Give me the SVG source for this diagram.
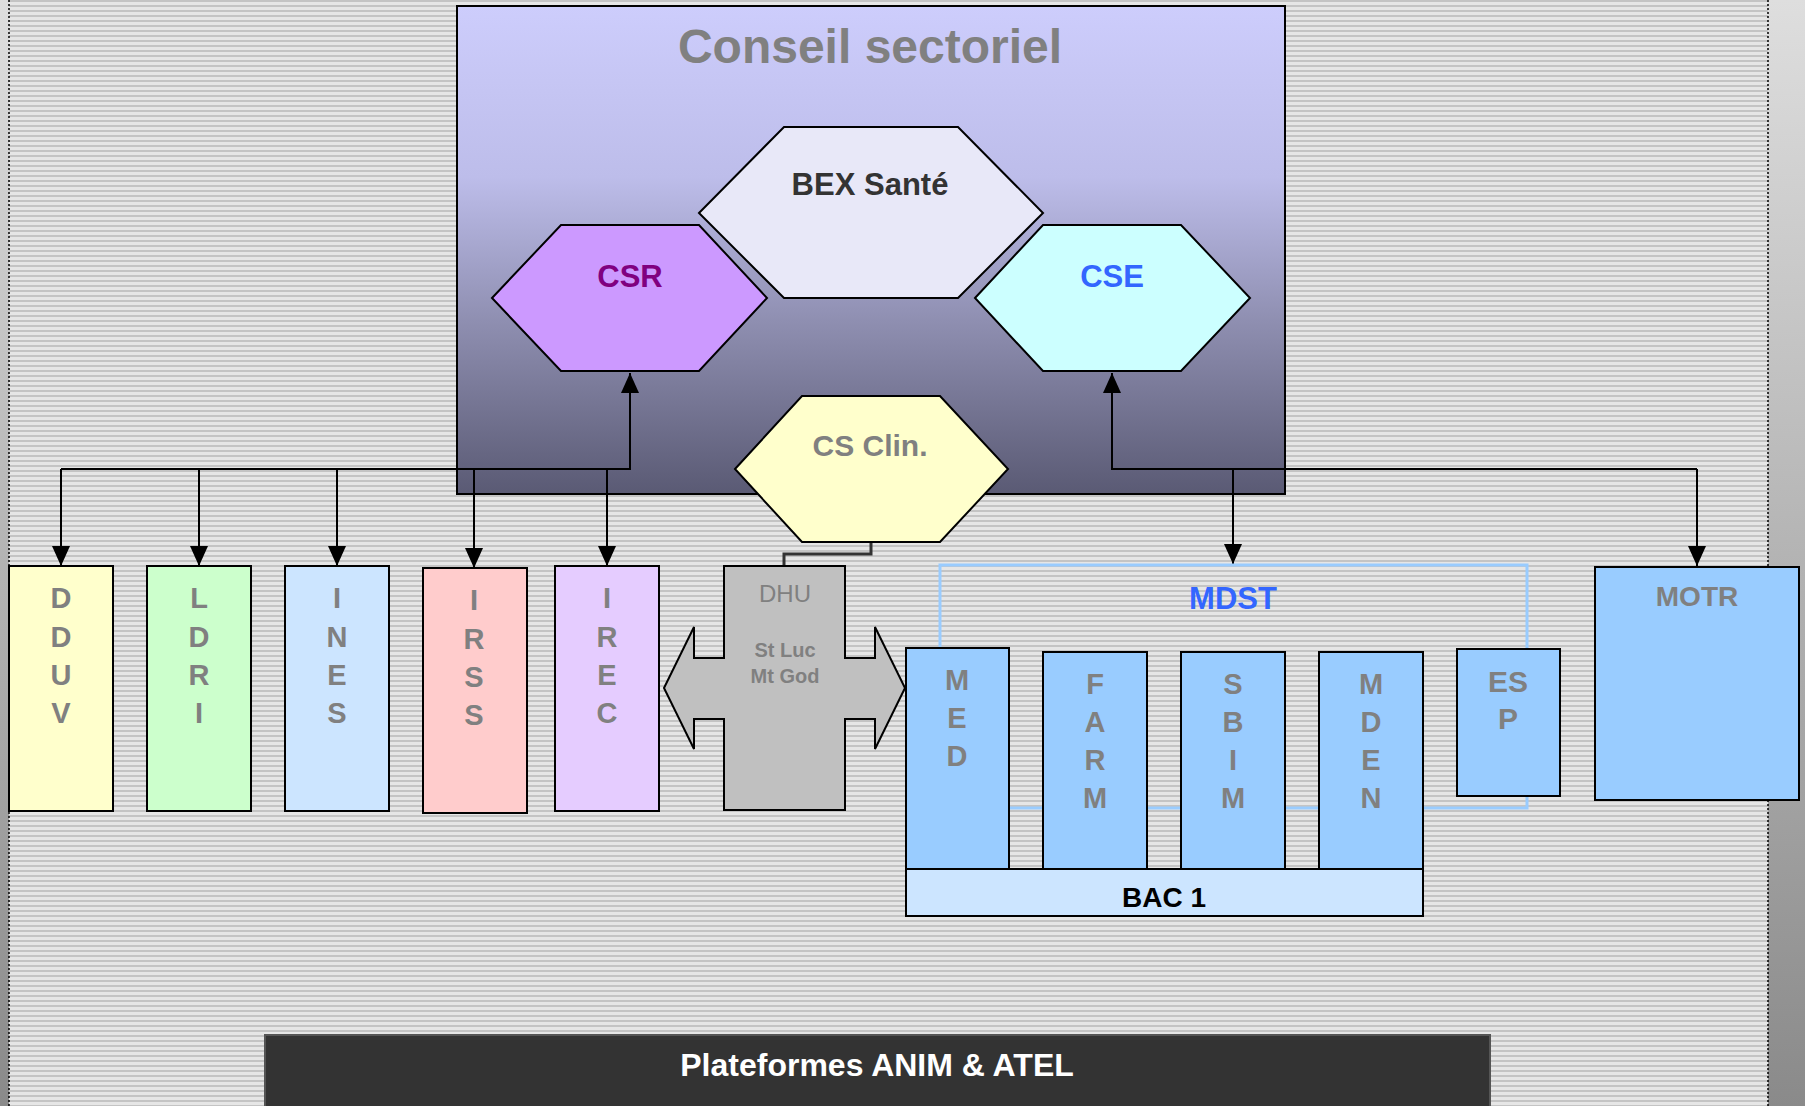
<svg xmlns="http://www.w3.org/2000/svg" width="1805" height="1106" viewBox="0 0 1805 1106">
<defs>
<linearGradient id="side" x1="0" y1="0" x2="0" y2="1">
<stop offset="0" stop-color="#dedede"/><stop offset="1" stop-color="#8a8a8a"/>
</linearGradient>
<linearGradient id="cs" x1="0" y1="0" x2="0" y2="1">
<stop offset="0" stop-color="#cdcdfc"/><stop offset="0.35" stop-color="#bdbdea"/><stop offset="0.65" stop-color="#8e8eb0"/><stop offset="1" stop-color="#5a5a74"/>
</linearGradient>
<pattern id="stripes" width="10" height="5" patternUnits="userSpaceOnUse">
<rect width="10" height="5" fill="#e6e6e6"/><rect y="0" width="10" height="2" fill="#c4c4c4"/>
</pattern>
<marker id="arr" markerUnits="userSpaceOnUse" markerWidth="20" markerHeight="20" viewBox="0 0 20 20" refX="20" refY="10" orient="auto">
<path d="M0,1 L20,10 L0,19 Z" fill="#000"/>
</marker>
<style>
.b{stroke:#000;stroke-width:2}
.t{font-family:"Liberation Sans",Arial,sans-serif;font-weight:bold;text-anchor:middle}
.g{fill:#808080}
.v{font-size:29px}
.c{fill:none;stroke:#000;stroke-width:2}
</style>
</defs>
<rect width="1805" height="1106" fill="url(#side)"/>
<rect x="9" y="0" width="1759" height="1106" fill="url(#stripes)"/>
<line x1="9" y1="0" x2="9" y2="1106" stroke="#000" stroke-width="1.5" stroke-dasharray="2 2"/>
<line x1="1768" y1="0" x2="1768" y2="1106" stroke="#000" stroke-width="1.5" stroke-dasharray="2 2"/>

<g id="conseil">
<rect x="457" y="6" width="828" height="488" fill="url(#cs)" class="b"/>
<text x="870" y="63" class="t g" font-size="48">Conseil sectoriel</text>
</g>
<g id="bex">
<polygon points="699,213 784,127 958,127 1043,213 958,298 784,298" fill="#e8e8f8" class="b"/>
<text x="870" y="195" class="t" font-size="31" fill="#333">BEX Santé</text>
</g>
<g id="csr">
<polygon points="492,298 561,225 699,225 767,298 699,371 561,371" fill="#cc99ff" class="b"/>
<text x="630" y="287" class="t" font-size="31" fill="#800080">CSR</text>
</g>
<g id="cse">
<polygon points="975,298 1043,225 1181,225 1250,298 1181,371 1043,371" fill="#ccffff" class="b"/>
<text x="1112" y="287" class="t" font-size="31" fill="#3366ff">CSE</text>
</g>

<g id="connectors">
<path class="c" d="M61,469 H630 V373" marker-end="url(#arr)"/>
<path class="c" d="M61,469 V566" marker-end="url(#arr)"/>
<path class="c" d="M199,469 V566" marker-end="url(#arr)"/>
<path class="c" d="M337,469 V566" marker-end="url(#arr)"/>
<path class="c" d="M474,469 V568" marker-end="url(#arr)"/>
<path class="c" d="M607,469 V566" marker-end="url(#arr)"/>
<path class="c" d="M1697,469 H1112 V373" marker-end="url(#arr)"/>
<path class="c" d="M1233,469 V564" marker-end="url(#arr)"/>
<path class="c" d="M1697,469 V566" marker-end="url(#arr)"/>
<path d="M871,542 V554 H784 V566" fill="none" stroke="#333" stroke-width="3"/>
</g>

<g id="csclin">
<polygon points="735,469 802,396 940,396 1008,469 940,542 802,542" fill="#ffffcc" class="b"/>
<text x="870" y="456" class="t g" font-size="30">CS Clin.</text>
</g>

<g id="dduv">
<rect x="9" y="566" width="104" height="245" fill="#ffffcc" class="b"/>
<text class="t g v" x="61"><tspan x="61" y="608">D</tspan><tspan x="61" y="647">D</tspan><tspan x="61" y="685">U</tspan><tspan x="61" y="723">V</tspan></text>
</g>
<g id="ldri">
<rect x="147" y="566" width="104" height="245" fill="#ccffcc" class="b"/>
<text class="t g v" x="199"><tspan x="199" y="608">L</tspan><tspan x="199" y="647">D</tspan><tspan x="199" y="685">R</tspan><tspan x="199" y="723">I</tspan></text>
</g>
<g id="ines">
<rect x="285" y="566" width="104" height="245" fill="#cce5ff" class="b"/>
<text class="t g v" x="337"><tspan x="337" y="608">I</tspan><tspan x="337" y="647">N</tspan><tspan x="337" y="685">E</tspan><tspan x="337" y="723">S</tspan></text>
</g>
<g id="irss">
<rect x="423" y="568" width="104" height="245" fill="#ffcccc" class="b"/>
<text class="t g v" x="474"><tspan x="474" y="610">I</tspan><tspan x="474" y="649">R</tspan><tspan x="474" y="687">S</tspan><tspan x="474" y="725">S</tspan></text>
</g>
<g id="irec">
<rect x="555" y="566" width="104" height="245" fill="#e5ccff" class="b"/>
<text class="t g v" x="607"><tspan x="607" y="608">I</tspan><tspan x="607" y="647">R</tspan><tspan x="607" y="685">E</tspan><tspan x="607" y="723">C</tspan></text>
</g>

<g id="dhu">
<polygon points="664,688 694,627 694,658 724,658 724,566 845,566 845,658 875,658 875,627 905,688 875,749 875,719 845,719 845,810 724,810 724,719 694,719 694,749" fill="#c0c0c0" class="b"/>
<text x="785" y="602" font-family="Liberation Sans, Arial, sans-serif" font-size="24" text-anchor="middle" fill="#808080">DHU</text>
<text class="t g" font-size="20"><tspan x="785" y="657">St Luc</tspan><tspan x="785" y="683">Mt God</tspan></text>
</g>

<g id="mdst">
<rect x="940" y="565" width="587" height="243" fill="none" stroke="#99ccff" stroke-width="3"/>
<text x="1233" y="609" class="t" font-size="31" fill="#3366ff">MDST</text>
</g>
<g id="med">
<rect x="906" y="648" width="103" height="221" fill="#99ccff" class="b"/>
<text class="t g v"><tspan x="957" y="690">M</tspan><tspan x="957" y="728">E</tspan><tspan x="957" y="766">D</tspan></text>
</g>
<g id="farm">
<rect x="1043" y="652" width="104" height="217" fill="#99ccff" class="b"/>
<text class="t g v"><tspan x="1095" y="694">F</tspan><tspan x="1095" y="732">A</tspan><tspan x="1095" y="770">R</tspan><tspan x="1095" y="808">M</tspan></text>
</g>
<g id="sbim">
<rect x="1181" y="652" width="104" height="217" fill="#99ccff" class="b"/>
<text class="t g v"><tspan x="1233" y="694">S</tspan><tspan x="1233" y="732">B</tspan><tspan x="1233" y="770">I</tspan><tspan x="1233" y="808">M</tspan></text>
</g>
<g id="mden">
<rect x="1319" y="652" width="104" height="217" fill="#99ccff" class="b"/>
<text class="t g v"><tspan x="1371" y="694">M</tspan><tspan x="1371" y="732">D</tspan><tspan x="1371" y="770">E</tspan><tspan x="1371" y="808">N</tspan></text>
</g>
<g id="esp">
<rect x="1457" y="649" width="103" height="147" fill="#99ccff" class="b"/>
<text class="t g" font-size="30"><tspan x="1508" y="692">ES</tspan><tspan x="1508" y="729">P</tspan></text>
</g>
<g id="bac1">
<rect x="906" y="869" width="517" height="47" fill="#cce5ff" class="b"/>
<text x="1164" y="907" class="t" font-size="28" fill="#000">BAC 1</text>
</g>
<g id="motr">
<rect x="1595" y="567" width="204" height="233" fill="#99ccff" class="b"/>
<text x="1697" y="606" class="t g" font-size="28">MOTR</text>
</g>

<g id="plateformes">
<rect x="265" y="1035" width="1225" height="75" fill="#333333" stroke="#555" stroke-width="2"/>
<text x="877" y="1076" class="t" font-size="32" fill="#ffffff">Plateformes ANIM &amp; ATEL</text>
</g>
</svg>
